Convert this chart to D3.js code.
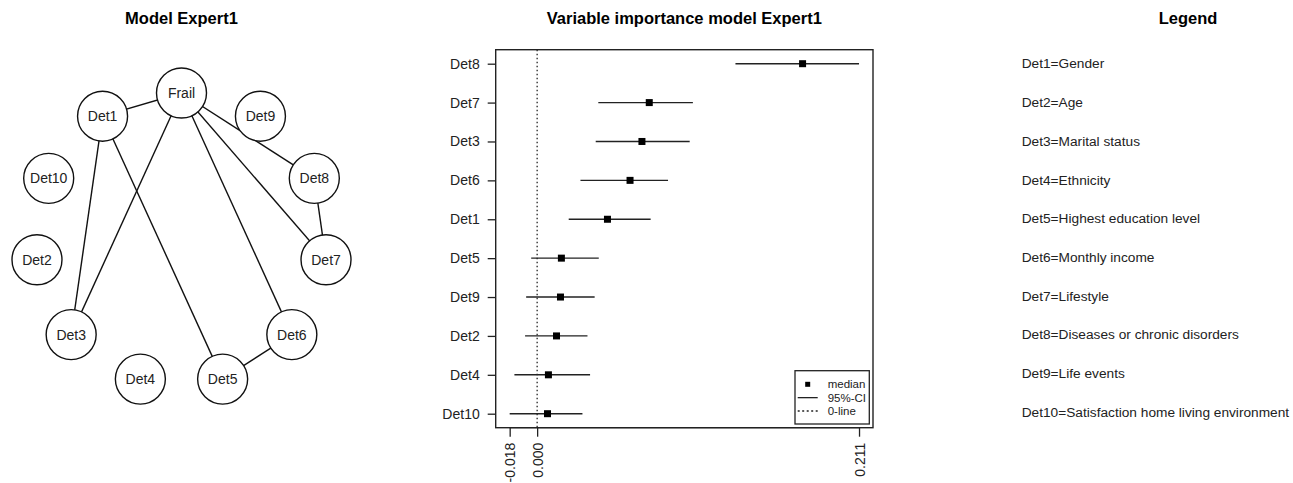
<!DOCTYPE html>
<html>
<head>
<meta charset="utf-8">
<script src="https://cdn.jsdelivr.net/npm/d3@7"></script>
<style>
  body { margin: 0; background: #fff; }
  svg { font-family: "Liberation Sans", Arial, Helvetica, sans-serif; }
</style>
</head>
<body>
<svg></svg>
<script>
// network nodes in circle order (clockwise from top)
var nodes = ["Frail", "Det9", "Det8", "Det7", "Det6", "Det5", "Det4", "Det3", "Det2", "Det10", "Det1"]
var edges = [
    ["Frail", "Det1"], ["Frail", "Det3"], ["Frail", "Det8"], ["Frail", "Det7"], ["Frail", "Det6"],
    ["Det1", "Det3"], ["Det1", "Det5"], ["Det8", "Det7"], ["Det6", "Det5"]
]

// variable importance (forest plot), top to bottom
var dets   = ["Det8", "Det7", "Det3", "Det6", "Det1", "Det5", "Det9", "Det2", "Det4", "Det10"]
var median = [0.174, 0.0735, 0.0687, 0.0609, 0.0461, 0.0159, 0.0153, 0.0127, 0.0074, 0.0068]
var lower  = [0.130, 0.0401, 0.0384, 0.0284, 0.0207, -0.0039, -0.0072, -0.0079, -0.0149, -0.0180]
var upper  = [0.211, 0.1021, 0.1000, 0.0858, 0.0744, 0.0404, 0.0377, 0.0330, 0.0347, 0.0297]
var xTicks = [-0.018, 0.000, 0.211]

var legendLabels = [
    "Det1=Gender", "Det2=Age", "Det3=Marital status", "Det4=Ethnicity",
    "Det5=Highest education level", "Det6=Monthly income", "Det7=Lifestyle",
    "Det8=Diseases or chronic disorders", "Det9=Life events",
    "Det10=Satisfaction home living environment"
]

function main(){
    var width = 1293
    var height = 483
    var svg = d3.select('svg').attr("width", width).attr("height", height)

    // ---------- titles
    var titles = [
        {t: "Model Expert1", x: 181.5},
        {t: "Variable importance model Expert1", x: 684.3},
        {t: "Legend", x: 1188}
    ]
    svg.selectAll(".title").data(titles).join("text")
        .attr("class", "title")
        .attr("x", d => d.x).attr("y", 24)
        .attr("text-anchor", "middle")
        .style("font-weight", "bold").style("font-size", "16.5px")
        .text(d => d.t)

    // ---------- network (circle layout)
    var cx = 181.5, cy = 239, R = 146, nodeR = 25
    var angle = d3.scaleLinear().domain([0, nodes.length]).range([0, 2 * Math.PI])
    var pos = {}
    nodes.forEach((n, i) => {
        pos[n] = {x: cx + R * Math.sin(angle(i)), y: cy - R * Math.cos(angle(i))}
    })

    var net = svg.append("g")
    net.selectAll("line").data(edges).join("line")
        .attr("x1", d => pos[d[0]].x).attr("y1", d => pos[d[0]].y)
        .attr("x2", d => pos[d[1]].x).attr("y2", d => pos[d[1]].y)
        .attr("stroke", "#111").attr("stroke-width", 1.4)
    var ng = net.selectAll(".node").data(nodes).join("g")
        .attr("class", "node")
        .attr("transform", d => "translate(" + pos[d].x + "," + pos[d].y + ")")
    ng.append("circle").attr("r", nodeR)
        .attr("fill", "#fff").attr("stroke", "#111").attr("stroke-width", 1.4)
    ng.append("text").attr("text-anchor", "middle").attr("dy", "0.36em")
        .style("font-size", "14px").attr("fill", "#222")
        .text(d => d)

    // ---------- forest plot
    var left = 495.7, right = 873, top = 49.7, bottom = 427.7
    var ext = (d3.max(xTicks) - d3.min(xTicks)) * 0.04
    var xScale = d3.scaleLinear()
        .domain([d3.min(xTicks) - ext, d3.max(xTicks) + ext])
        .range([left, right])
    var yScale = d3.scalePoint().domain(dets).range([63.7, 413.7])

    var fp = svg.append("g")
    // zero line
    fp.append("line")
        .attr("x1", xScale(0)).attr("x2", xScale(0))
        .attr("y1", top).attr("y2", bottom)
        .attr("stroke", "#111").attr("stroke-width", 1.2).attr("stroke-dasharray", "1.5,2.5")

    var rows = dets.map((d, i) => ({name: d, med: median[i], lo: lower[i], hi: upper[i]}))
    fp.selectAll(".ci").data(rows).join("line")
        .attr("class", "ci")
        .attr("x1", d => xScale(d.lo)).attr("x2", d => xScale(d.hi))
        .attr("y1", d => yScale(d.name)).attr("y2", d => yScale(d.name))
        .attr("stroke", "#222").attr("stroke-width", 1.4)
    fp.selectAll(".med").data(rows).join("rect")
        .attr("class", "med")
        .attr("x", d => xScale(d.med) - 3.5).attr("y", d => yScale(d.name) - 3.5)
        .attr("width", 7).attr("height", 7)
        .attr("fill", "#000")

    fp.append("rect")
        .attr("x", left).attr("y", top)
        .attr("width", right - left).attr("height", bottom - top)
        .attr("fill", "none").attr("stroke", "#222").attr("stroke-width", 1.4)

    // y axis
    var yAxis = d3.axisLeft(yScale).tickSize(8).tickPadding(8)
    var ya = fp.append("g").attr("transform", "translate(" + left + ",0)").call(yAxis)
    ya.select(".domain").remove()
    ya.selectAll("line").attr("stroke", "#222").attr("stroke-width", 1.3)
    ya.selectAll("text").style("font-size", "14px").attr("fill", "#222")

    // x axis
    var xAxis = d3.axisBottom(xScale).tickValues(xTicks).tickSize(9)
        .tickFormat(d3.format(".3f")).tickSizeOuter(0)
    var xa = fp.append("g").attr("transform", "translate(0," + bottom + ")").call(xAxis)
    xa.select(".domain").attr("stroke", "#222").attr("stroke-width", 1.3)
        .attr("d", "M" + xScale(xTicks[0]) + ",0H" + xScale(xTicks[xTicks.length - 1]))
    xa.selectAll("line").attr("stroke", "#222").attr("stroke-width", 1.3)
    xa.selectAll("text")
        .style("font-size", "14px").attr("fill", "#222")
        .attr("text-anchor", "end")
        .attr("transform", "rotate(-90)")
        .attr("x", -15).attr("y", 0).attr("dy", "0.36em")
        .text(d => d3.format(".3f")(d).replace("−", "-"))

    // key inside plot
    var key = fp.append("g")
    key.append("rect")
        .attr("x", 795).attr("y", 370.7).attr("width", 74.3).attr("height", 53.3)
        .attr("fill", "#fff").attr("stroke", "#222").attr("stroke-width", 1.3)
    var keyItems = ["median", "95%-CI", "0-line"]
    var keyY = d3.scalePoint().domain(keyItems).range([384.3, 411])
    key.append("rect").attr("x", 805.2).attr("y", keyY("median") - 2.5)
        .attr("width", 5).attr("height", 5).attr("fill", "#000")
    key.append("line").attr("x1", 797.7).attr("x2", 817.7)
        .attr("y1", keyY("95%-CI")).attr("y2", keyY("95%-CI"))
        .attr("stroke", "#222").attr("stroke-width", 1.3)
    key.append("line").attr("x1", 797.7).attr("x2", 817.7)
        .attr("y1", keyY("0-line")).attr("y2", keyY("0-line"))
        .attr("stroke", "#222").attr("stroke-width", 1.3).attr("stroke-dasharray", "2,2.5")
    key.selectAll("text").data(keyItems).join("text")
        .attr("x", 827.7).attr("y", d => keyY(d)).attr("dy", "0.36em")
        .style("font-size", "11.5px").attr("fill", "#222")
        .text(d => d)

    // ---------- text legend
    var legY = d3.scalePoint().domain(legendLabels).range([63.5, 412])
    svg.append("g").selectAll("text").data(legendLabels).join("text")
        .attr("x", 1021.7).attr("y", d => legY(d)).attr("dy", "0.36em")
        .style("font-size", "13.7px").attr("fill", "#222")
        .text(d => d)
}
main()
</script>
</body>
</html>
